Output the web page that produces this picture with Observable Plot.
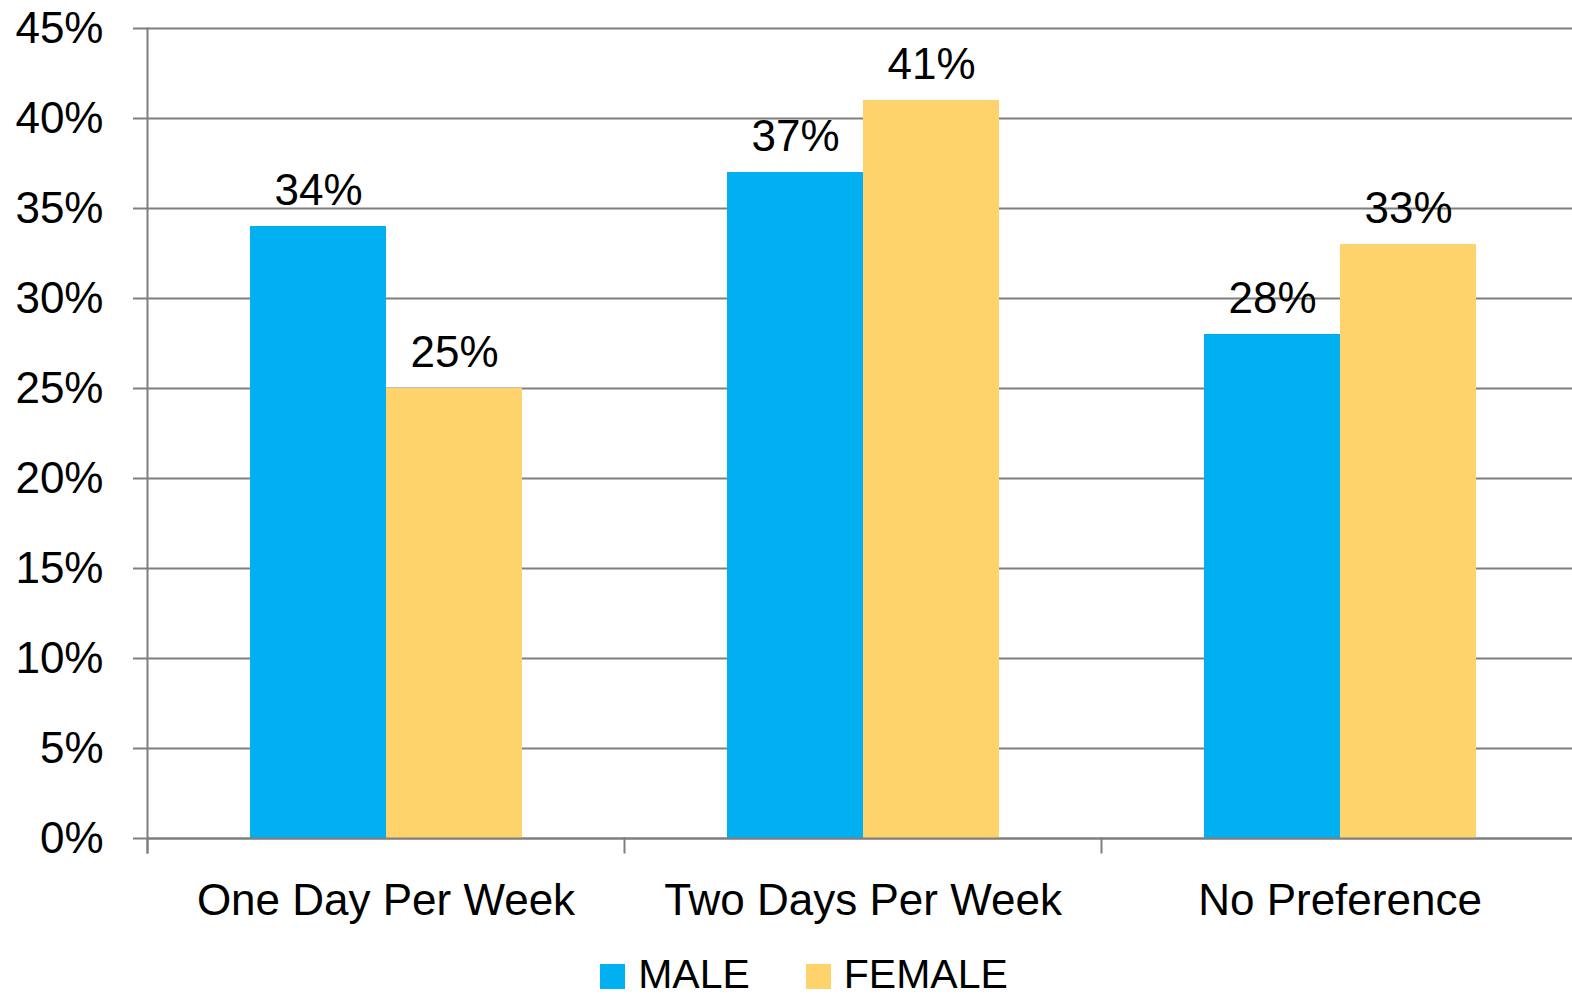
<!DOCTYPE html>
<html><head><meta charset="utf-8">
<script src="https://cdn.jsdelivr.net/npm/d3@7"></script>
<script src="https://cdn.jsdelivr.net/npm/@observablehq/plot@0.6"></script>
<style>
html,body{margin:0;padding:0;background:#fff;}
body{width:1572px;height:995px;overflow:hidden;font-family:"Liberation Sans",Arial,sans-serif;}
#chart{width:1572px;overflow:hidden;}
#chart svg{max-width:none !important;}
#legend{display:flex;justify-content:center;padding-left:36px;padding-top:24px;font-size:41px;line-height:1;color:#000;}
#legend .item{display:inline-flex;align-items:center;}
#legend .sw{width:25px;height:25px;margin-right:13px;position:relative;top:2px;}
#legend .item + .item{margin-left:56px;}
</style></head><body><div id="chart"></div><div id="legend"></div>
<script>
const categories = ["One Day Per Week", "Two Days Per Week", "No Preference"];
const series = ["MALE", "FEMALE"];
const maleValues = [0.34, 0.37, 0.28];
const femaleValues = [0.25, 0.41, 0.33];
const colors = ["#00B0F0", "#FFD36B"];
const yTicks = [0, 0.05, 0.10, 0.15, 0.20, 0.25, 0.30, 0.35, 0.40, 0.45];

const data = categories.flatMap((c, i) => [
  {category: c, series: series[0], value: maleValues[i]},
  {category: c, series: series[1], value: femaleValues[i]}
]);
const pct = d => Math.round(d * 100) + "%";
const font = '"Liberation Sans", Arial, sans-serif';
const grey = "#7f7f7f";

const plot = Plot.plot({
  width: 1578, height: 930,
  marginLeft: 146, marginRight: 0, marginTop: 28, marginBottom: 92,
  style: {fontFamily: font, fontSize: "44px", color: "#000", background: "#fff", maxWidth: "none"},
  fx: {domain: categories, padding: 0, label: null},
  x: {domain: series, paddingInner: 0, paddingOuter: 0.75, axis: null},
  y: {domain: [0, 0.45], label: null},
  color: {domain: series, range: colors},
  marks: [
    Plot.gridY(yTicks, {stroke: grey, strokeOpacity: 1, strokeWidth: 2}),
    Plot.axisY(yTicks, {tickSize: 14, tickPadding: 30, stroke: grey, strokeWidth: 2, strokeOpacity: 1, tickFormat: pct, fontSize: 44, label: null}),
    Plot.axisFx({anchor: "bottom", tickSize: 0, tickPadding: 45, fontSize: 44, label: null}),
    Plot.barY(data, {fx: "category", x: "series", y: "value", fill: "series"}),
    Plot.ruleY([0], {stroke: grey, strokeWidth: 2}),
    Plot.frame({anchor: "left", facetAnchor: "left", stroke: grey, strokeWidth: 2, insetBottom: -14}),
    Plot.frame({anchor: "left", stroke: grey, strokeWidth: 2, insetTop: 810, insetBottom: -14}),
    Plot.text(data, {fx: "category", x: "series", y: "value", text: d => pct(d.value), lineAnchor: "bottom", dy: -22, fontSize: 44, fill: "#000"})
  ]
});
document.getElementById("chart").appendChild(plot);

const legend = document.getElementById("legend");
series.forEach((s, i) => {
  const item = document.createElement("span");
  item.className = "item";
  const sw = document.createElement("span");
  sw.className = "sw";
  sw.style.background = colors[i];
  item.appendChild(sw);
  item.appendChild(document.createTextNode(s));
  legend.appendChild(item);
});
</script>
</body></html>
